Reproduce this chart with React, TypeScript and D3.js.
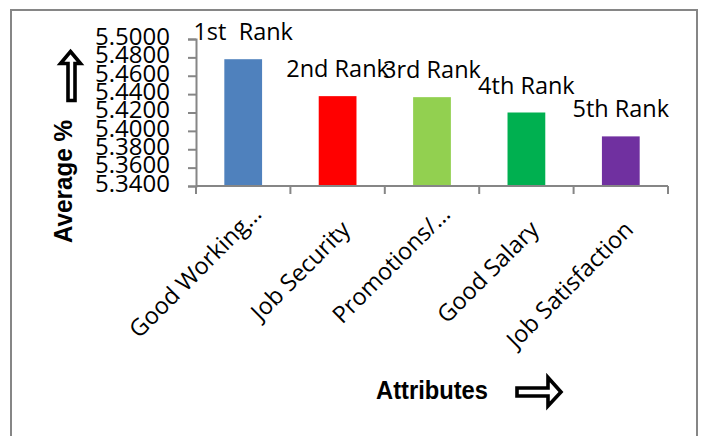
import React, { useRef, useEffect } from 'react';
import * as d3 from 'd3';

const attributes = ['Good Working…', 'Job Security', 'Promotions/…', 'Good Salary', 'Job Satisfaction'];
const averages = [5.478, 5.4378, 5.4367, 5.42, 5.394];
const rankLabels = ['1st  Rank', '2nd Rank', '3rd Rank', '4th Rank', '5th Rank'];
const barColors = ['#4F81BD', '#FF0000', '#92D050', '#00B050', '#7030A0'];
const yTicks = [5.34, 5.36, 5.38, 5.4, 5.42, 5.44, 5.46, 5.48, 5.5];

const App = () => {
  const svgRef = useRef<SVGSVGElement>(null);

  useEffect(() => {
    const svg = d3.select(svgRef.current);
    svg.selectAll('*').remove();

    const width = 704;
    const height = 436;
    const plot = { left: 196, right: 668, top: 39, bottom: 186 };
    const font = '"Open Sans", sans-serif';
    const grey = '#868686';

    svg.attr('width', width).attr('height', height);

    svg.append('rect')
      .attr('x', 0).attr('y', 0).attr('width', width).attr('height', height)
      .attr('fill', '#fff');

    // chart area border (bottom edge falls outside the picture)
    svg.append('rect')
      .attr('x', 11).attr('y', 10).attr('width', 686).attr('height', 440)
      .attr('fill', 'none').attr('stroke', grey).attr('stroke-width', 2);

    const x = d3.scaleBand()
      .domain(attributes)
      .range([plot.left, plot.right])
      .paddingInner(0.6)
      .paddingOuter(0.3);

    const y = d3.scaleLinear()
      .domain([5.34, 5.5])
      .range([plot.bottom, plot.top]);

    // y axis
    const yAxis = svg.append('g')
      .attr('transform', `translate(${plot.left},0)`)
      .call(d3.axisLeft(y).tickValues(yTicks).tickFormat(d3.format('.4f')).tickSize(8).tickPadding(18));
    yAxis.select('.domain').attr('stroke', grey).attr('stroke-width', 2);
    yAxis.selectAll('.tick line').attr('stroke', grey).attr('stroke-width', 2);
    yAxis.selectAll('.tick text')
      .attr('font-family', font).attr('font-size', 24).attr('fill', '#000').attr('dy', '0.22em');

    // bars
    svg.append('g')
      .selectAll('rect')
      .data(attributes)
      .join('rect')
      .attr('x', d => x(d))
      .attr('y', (d, i) => y(averages[i]))
      .attr('width', x.bandwidth())
      .attr('height', (d, i) => y(5.34) - y(averages[i]))
      .attr('fill', (d, i) => barColors[i]);

    // rank labels
    svg.append('g')
      .selectAll('text')
      .data(attributes)
      .join('text')
      .attr('x', d => x(d) + x.bandwidth() / 2)
      .attr('y', (d, i) => y(averages[i]) - 19)
      .attr('text-anchor', 'middle')
      .attr('font-family', font)
      .attr('font-size', 23.5)
      .style('white-space', 'pre')
      .text((d, i) => rankLabels[i]);

    // x axis: line + ticks at category boundaries
    const step = x.step();
    const bounds = d3.range(attributes.length + 1).map(i => plot.left + i * step);
    const xg = svg.append('g');
    xg.append('line')
      .attr('x1', plot.left).attr('x2', plot.right)
      .attr('y1', plot.bottom).attr('y2', plot.bottom)
      .attr('stroke', grey).attr('stroke-width', 2);
    xg.selectAll('line.tick')
      .data(bounds)
      .join('line')
      .attr('class', 'tick')
      .attr('x1', d => d).attr('x2', d => d)
      .attr('y1', plot.bottom).attr('y2', plot.bottom + 8)
      .attr('stroke', grey).attr('stroke-width', 2);

    xg.selectAll('text')
      .data(attributes)
      .join('text')
      .attr('transform', d => `translate(${x(d) + x.bandwidth() / 2 + 14},${plot.bottom + 45}) rotate(-45)`)
      .attr('text-anchor', 'end')
      .attr('dx', d => (d.endsWith('…') ? 15 : 0))
      .attr('dy', d => (d.endsWith('…') ? -7 : 0))
      .attr('font-family', font)
      .attr('font-size', 23.5)
      .text(d => d);

    // axis titles
    svg.append('text')
      .attr('transform', 'translate(72,181.5) rotate(-90)')
      .attr('text-anchor', 'middle')
      .attr('font-family', '"Liberation Sans", Arial, sans-serif')
      .attr('font-weight', 'bold')
      .attr('font-size', 25)
      .attr('textLength', 123)
      .attr('lengthAdjust', 'spacingAndGlyphs')
      .text('Average %');

    svg.append('text')
      .attr('x', 376).attr('y', 399)
      .attr('font-family', '"Liberation Sans", Arial, sans-serif')
      .attr('font-weight', 'bold')
      .attr('font-size', 26)
      .attr('textLength', 112)
      .attr('lengthAdjust', 'spacingAndGlyphs')
      .text('Attributes');

    // block arrows
    const up = d3.path();
    up.moveTo(70.5, 51.5);
    up.lineTo(80.5, 63.5);
    up.lineTo(75, 63.5);
    up.lineTo(75, 100.5);
    up.lineTo(68, 100.5);
    up.lineTo(68, 63.5);
    up.lineTo(60.5, 63.5);
    up.closePath();
    svg.append('path').attr('d', up.toString())
      .attr('fill', '#fff').attr('stroke', '#000').attr('stroke-width', 3.6);

    const right = d3.path();
    right.moveTo(517, 388);
    right.lineTo(548, 388);
    right.lineTo(548, 377.5);
    right.lineTo(561, 392);
    right.lineTo(548, 406);
    right.lineTo(548, 396);
    right.lineTo(517, 396);
    right.closePath();
    svg.append('path').attr('d', right.toString())
      .attr('fill', '#fff').attr('stroke', '#000').attr('stroke-width', 3.6);
  }, []);

  return (
    <div style={{ position: 'absolute', left: 0, top: 0 }}>
      <svg ref={svgRef} style={{ display: 'block' }}></svg>
    </div>
  );
};

export default App;
